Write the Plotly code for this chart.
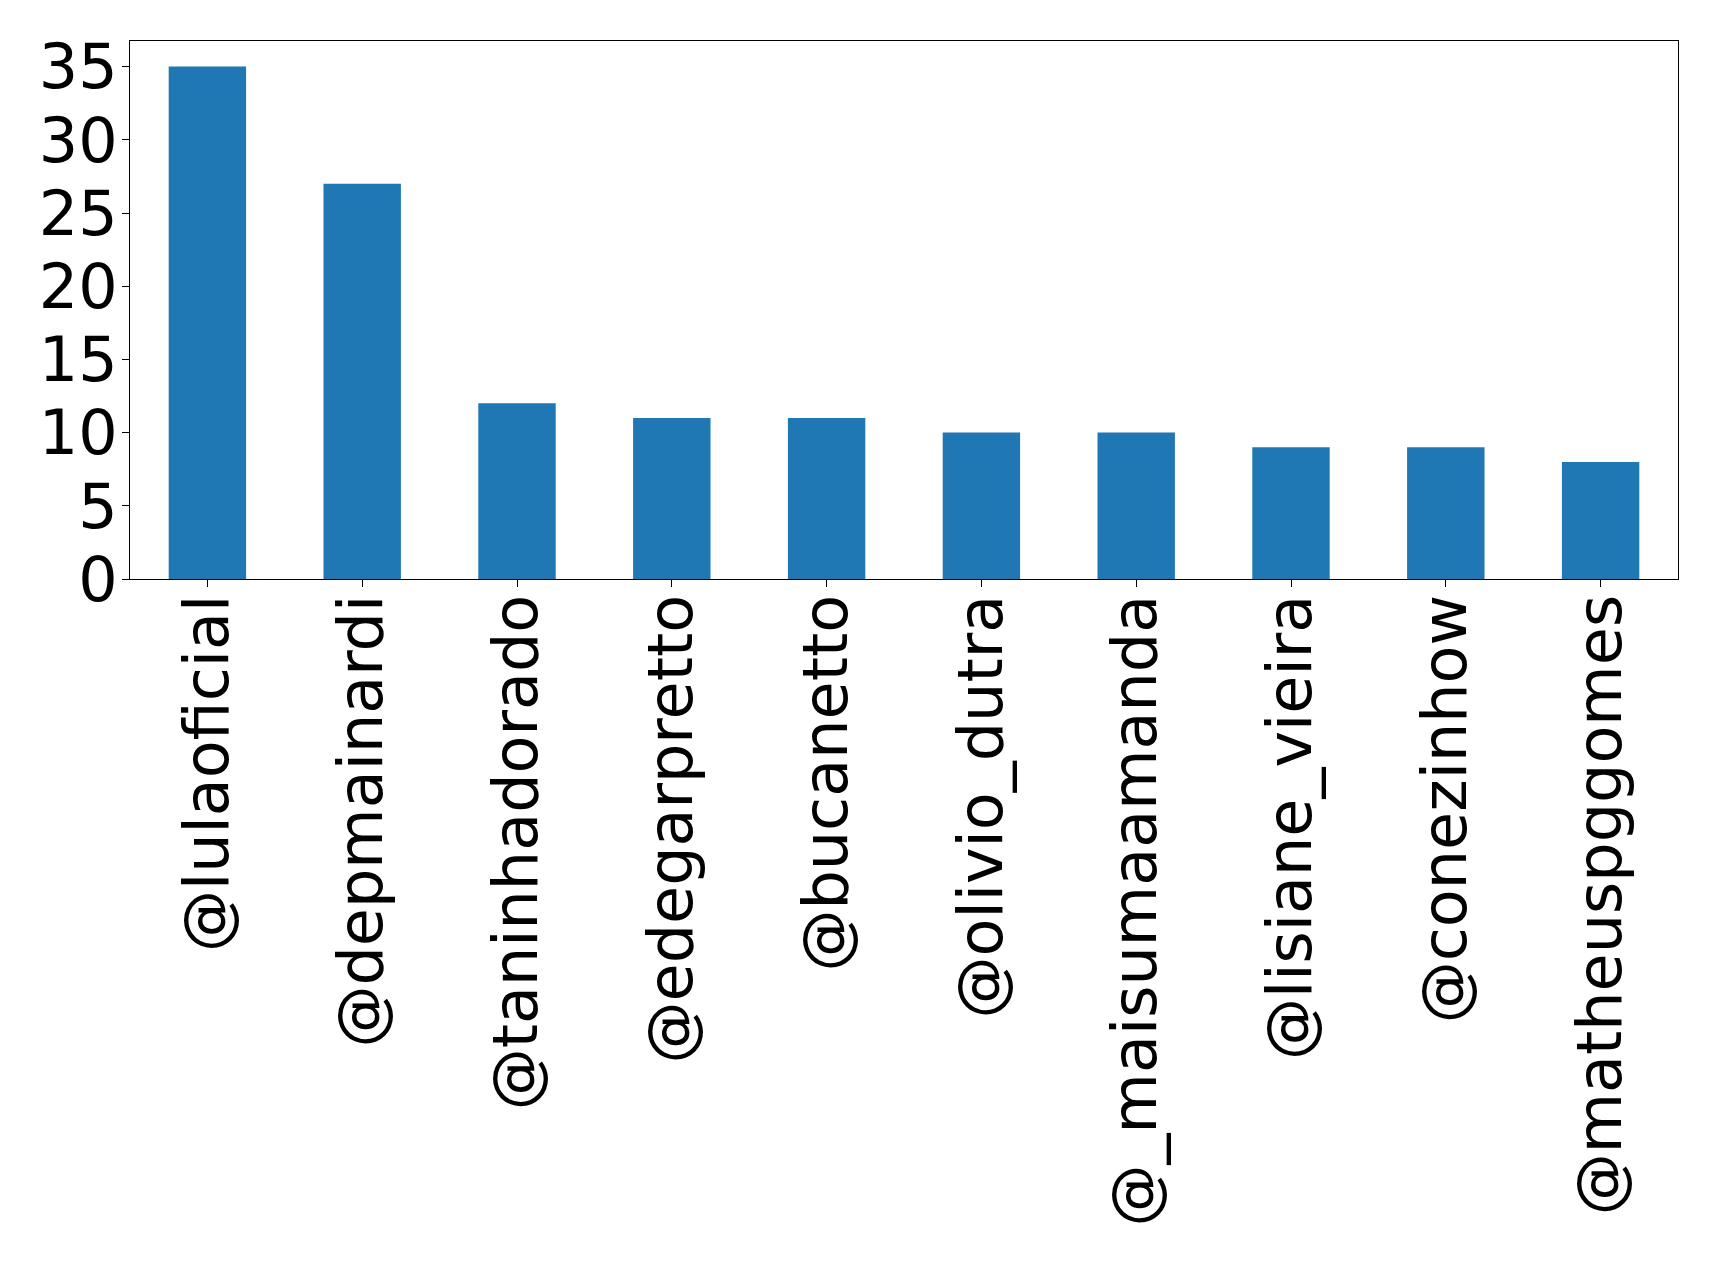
import plotly.graph_objects as go

# Mention counts per account
accounts = [
    "@lulaoficial", "@depmainardi", "@taninhadorado", "@edegarpretto",
    "@bucanetto", "@olivio_dutra", "@_maisumaamanda", "@lisiane_vieira",
    "@conezinhow", "@matheuspggomes",
]
counts = [35, 27, 12, 11, 11, 10, 10, 9, 9, 8]
y_ticks = [0, 5, 10, 15, 20, 25, 30, 35]

fig = go.Figure()

fig.add_trace(go.Bar(
    x=accounts,
    y=counts,
    width=0.5,
    marker=dict(color="#1f77b4", line=dict(width=0)),
))

fig.update_layout(
    width=1719,
    height=1264,
    margin=dict(l=122, r=49, t=33, b=693),
    plot_bgcolor="white",
    paper_bgcolor="white",
    showlegend=False,
    font=dict(family="DejaVu Sans", size=62, color="black"),
    xaxis=dict(
        range=[-0.5, 9.5],
        tickangle=-90,
        ticks="outside",
        ticklen=7,
        tickcolor="black",
        showline=True,
        linecolor="black",
        linewidth=1,
        mirror=True,
        showgrid=False,
        ticklabelstandoff=-17,
    ),
    yaxis=dict(
        range=[0, 36.75],
        tickvals=y_ticks,
        ticks="outside",
        ticklen=7,
        tickcolor="black",
        showline=True,
        linecolor="black",
        linewidth=1,
        mirror=True,
        showgrid=False,
        zeroline=False,
        ticklabelstandoff=-8,
    ),
)

fig.write_html("out.html")
